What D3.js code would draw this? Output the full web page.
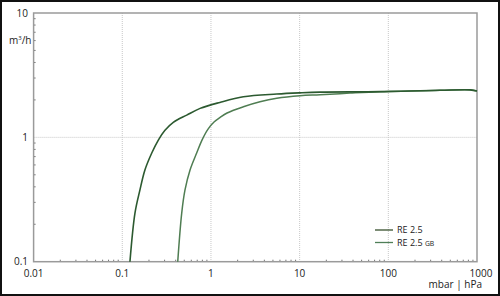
<!DOCTYPE html>
<html><head><meta charset="utf-8">
<script src="https://cdn.jsdelivr.net/npm/d3@7"></script>
<style>body{margin:0;background:#fff}svg{display:block}text{font-family:"Open Sans",sans-serif;fill:#222}</style>
</head><body><svg id="c" width="500" height="296"></svg>
<script>
const xTicks = [0.01, 0.1, 1, 10, 100, 1000];
const xTickLabels = ["0.01", "0.1", "1", "10", "100", "1000"];
const yTicks = [0.1, 1, 10];
const yTickLabels = ["0.1", "1", "10"];
const seriesNames = ["RE 2.5", "RE 2.5 GB"];
const re25X = [0.122,0.139,0.158,0.180,0.215,0.255,0.303,0.376,0.533,0.754,1.26,2.32,5.52,10.1,17,80.7,383,835,1000];
const re25Y = [0.1,0.246,0.376,0.546,0.748,0.951,1.14,1.32,1.51,1.71,1.91,2.12,2.23,2.28,2.31,2.33,2.39,2.41,2.36];
const gbX = [0.422,0.468,0.509,0.581,0.690,0.792,0.927,1.083,1.26,1.52,2.32,3.57,5.52,10.1,17,37,80.7,383,835,1000];
const gbY = [0.1,0.246,0.376,0.546,0.748,0.951,1.166,1.327,1.44,1.57,1.76,1.93,2.06,2.16,2.20,2.27,2.33,2.39,2.41,2.36];

const svg = d3.select("#c");
const L = 33.6, R = 477, T = 13, B = 261.7;
const x = d3.scaleLog().domain([0.01, 1000]).range([L, R]);
const y = d3.scaleLog().domain([0.1, 10]).range([B, T]);

// outer frame
svg.append("rect").attr("x",1).attr("y",1).attr("width",498).attr("height",294)
  .attr("fill","none").attr("stroke","#111").attr("stroke-width",2);

// grid
const g = svg.append("g");
g.selectAll(".gx").data(xTicks.slice(1, -1)).join("line")
  .attr("x1", d => x(d)).attr("x2", d => x(d)).attr("y1", T).attr("y2", B)
  .attr("stroke", "#c8c8c8").attr("stroke-width", 1).attr("stroke-dasharray", "1,1");
g.selectAll(".gy").data(yTicks.slice(1, -1)).join("line")
  .attr("y1", d => y(d)).attr("y2", d => y(d)).attr("x1", L).attr("x2", R)
  .attr("stroke", "#c8c8c8").attr("stroke-width", 1).attr("stroke-dasharray", "1,1");

// minor ticks
const xMinor = [];
for (let e = -2; e < 3; e++) for (let m = 2; m <= 9; m++) xMinor.push(m * Math.pow(10, e));
const yMinor = [];
for (let e = -1; e < 1; e++) for (let m = 2; m <= 9; m++) yMinor.push(m * Math.pow(10, e));
g.selectAll(".mx").data(xMinor).join("line")
  .attr("x1", d => x(d)).attr("x2", d => x(d)).attr("y1", B).attr("y2", B - 2)
  .attr("stroke", "#777").attr("stroke-width", 1);
g.selectAll(".my").data(yMinor).join("line")
  .attr("y1", d => y(d)).attr("y2", d => y(d)).attr("x1", L).attr("x2", L + 2)
  .attr("stroke", "#777").attr("stroke-width", 1);

// plot frame
svg.append("rect").attr("x", L).attr("y", T).attr("width", R - L).attr("height", B - T)
  .attr("fill", "none").attr("stroke", "#9a9a9a").attr("stroke-width", 1.5);

// tick labels
svg.selectAll(".xl").data(xTicks).join("text")
  .attr("x", (d, i) => x(d) + (i === xTicks.length - 1 ? 4 : 0)).attr("y", 276.5)
  .attr("text-anchor", "middle").attr("font-size", 10).text((d, i) => xTickLabels[i]);
svg.selectAll(".yl").data(yTicks).join("text")
  .attr("x", 28).attr("y", d => y(d) + 3.5)
  .attr("text-anchor", "end").attr("font-size", 10).text((d, i) => yTickLabels[i]);

// axis titles
const yt = svg.append("text").attr("x", 9).attr("y", 44).attr("font-size", 10);
yt.append("tspan").text("m");
yt.append("tspan").attr("font-size", 6).attr("dy", -4).text("3");
yt.append("tspan").attr("dy", 4).text("/h");
svg.append("text").attr("x", 482).attr("y", 288).attr("text-anchor", "end").attr("font-size", 10).text("mbar | hPa");

// curves
const colors = ["#2c5a30", "#4f7d52"];
const legendColors = ["#364f2c", "#4f7f58"];
const line = d3.line().x(d => x(d[0])).y(d => y(d[1])).curve(d3.curveCatmullRom.alpha(0.5));
const dataA = re25X.map((v, i) => [v, re25Y[i]]);
const dataB = gbX.map((v, i) => [v, gbY[i]]);
svg.append("path").attr("d", line(dataB)).attr("fill", "none").attr("stroke", colors[1]).attr("stroke-width", 1.5);
svg.append("path").attr("d", line(dataA)).attr("fill", "none").attr("stroke", colors[0]).attr("stroke-width", 1.6);

// legend
const lg = svg.append("g");
[0, 1].forEach(i => {
  const ly = 230 + i * 12.5;
  lg.append("line").attr("x1", 375).attr("x2", 393).attr("y1", ly).attr("y2", ly)
    .attr("stroke", legendColors[i]).attr("stroke-width", 1.3);
  const t = lg.append("text").attr("x", 397).attr("y", ly + 3.3).attr("font-size", 9);
  if (i === 0) t.text(seriesNames[0]);
  else { t.append("tspan").text("RE 2.5 "); t.append("tspan").attr("font-size", 6.8).text("GB"); }
});
</script></body></html>
